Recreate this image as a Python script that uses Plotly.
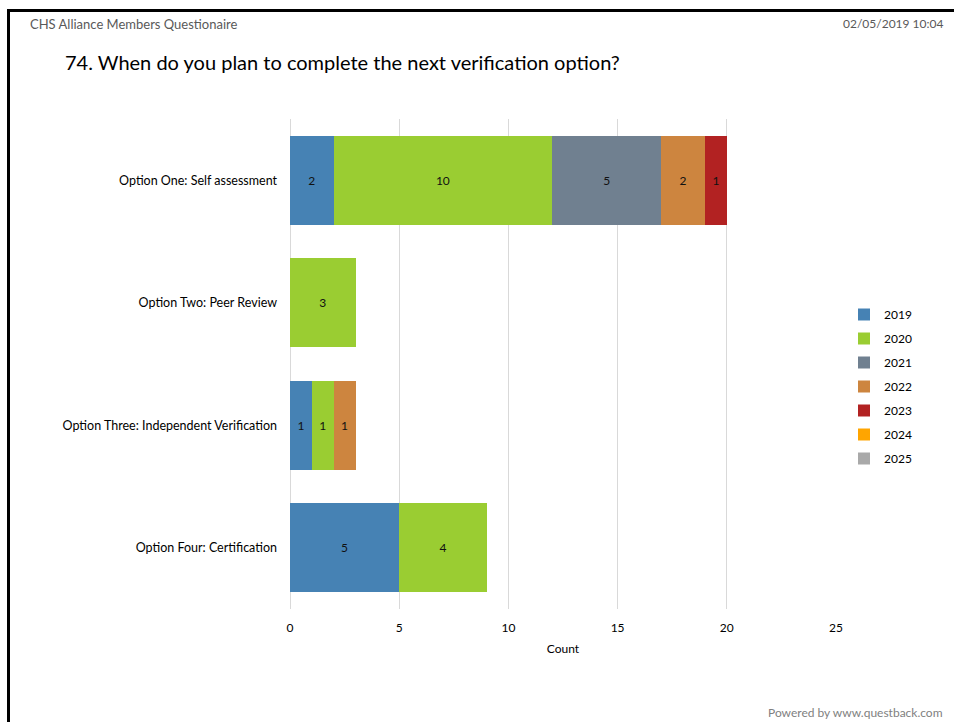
import plotly.graph_objects as go

# Survey question 74: planned year for the next verification option
categories = [
    "Option One: Self assessment",
    "Option Two: Peer Review",
    "Option Three: Independent Verification",
    "Option Four: Certification",
]
years = ["2019", "2020", "2021", "2022", "2023", "2024", "2025"]
counts_2019 = [2, None, 1, 5]
counts_2020 = [10, 3, 1, 4]
counts_2021 = [5, None, None, None]
counts_2022 = [2, None, 1, None]
counts_2023 = [1, None, None, None]
counts_2024 = [None, None, None, None]
counts_2025 = [None, None, None, None]
series = [counts_2019, counts_2020, counts_2021, counts_2022,
          counts_2023, counts_2024, counts_2025]
colors = ["#4682B4", "#9ACD32", "#708090", "#CD853F", "#B22222", "#FFA500", "#A9A9A9"]

FONT = "Lato, 'Open Sans', Arial, sans-serif"

# plot area in pixels
W, H = 954, 722
L, R, T, B = 290, 836, 119, 609


def px(x):
    return (x - L) / (R - L)


def py(y):
    return (B - y) / (B - T)


fig = go.Figure()
for year, vals, col in zip(years, series, colors):
    fig.add_trace(go.Bar(
        name=year,
        y=categories,
        x=vals,
        orientation="h",
        marker=dict(color=col, line=dict(width=0)),
        text=[str(v) if v else "" for v in vals],
        textposition="inside",
        insidetextanchor="middle",
        textangle=0,
        constraintext="none",
        textfont=dict(color="#111111", size=12, family=FONT),
        legendgroup=year,
        hoverinfo="x+name",
    ))

fig.update_layout(
    width=W, height=H,
    margin=dict(l=L, r=W - R, t=T, b=H - B, pad=0),
    barmode="stack",
    bargap=0.27,
    plot_bgcolor="white",
    paper_bgcolor="white",
    font=dict(family=FONT, size=12, color="#000000"),
    showlegend=True,
    legend=dict(
        x=px(844), y=py(300), xanchor="left", yanchor="top",
        font=dict(size=12, family=FONT, color="#000000"),
        tracegroupgap=5,
        itemwidth=30,
        bgcolor="rgba(0,0,0,0)",
    ),
    xaxis=dict(
        range=[0, 25],
        tick0=0, dtick=5,
        showgrid=True, gridcolor="#d9d9d9", gridwidth=1,
        zeroline=True, zerolinecolor="#d9d9d9", zerolinewidth=1,
        showline=False,
        ticks="",
        ticklabelstandoff=10,
        tickfont=dict(size=12, family=FONT, color="#000000"),
        title=dict(text="Count", font=dict(size=12, family=FONT, color="#000000"), standoff=10),
        fixedrange=True,
    ),
    yaxis=dict(
        autorange="reversed",
        showgrid=False, zeroline=False, showline=False,
        ticks="",
        ticklabelstandoff=12,
        tickfont=dict(size=12.5, family=FONT, color="#000000"),
        fixedrange=True,
    ),
    shapes=[
        # page frame
        dict(type="line", xref="paper", yref="paper",
             x0=px(8), x1=px(W + 2), y0=py(10.5), y1=py(10.5),
             line=dict(color="#000000", width=3)),
        dict(type="line", xref="paper", yref="paper",
             x0=px(8.5), x1=px(8.5), y0=py(9), y1=py(H + 2),
             line=dict(color="#000000", width=3)),
    ],
    annotations=[
        dict(text="CHS Alliance Members Questionaire", xref="paper", yref="paper",
             x=px(28), y=py(24), xanchor="left", yanchor="middle", showarrow=False,
             font=dict(size=13, family=FONT, color="#595959")),
        dict(text="02/05/2019 10:04", xref="paper", yref="paper",
             x=px(945), y=py(24), xanchor="right", yanchor="middle", showarrow=False,
             font=dict(size=12, family=FONT, color="#595959")),
        dict(text="74. When do you plan to complete the next verification option?",
             xref="paper", yref="paper",
             x=px(63), y=py(62), xanchor="left", yanchor="middle", showarrow=False,
             font=dict(size=20, family=FONT, color="#000000")),
        dict(text="Powered by www.questback.com", xref="paper", yref="paper",
             x=px(945), y=py(713), xanchor="right", yanchor="middle", showarrow=False,
             font=dict(size=12, family=FONT, color="#7f7f7f")),
    ],
)

fig.write_html("out.html")
